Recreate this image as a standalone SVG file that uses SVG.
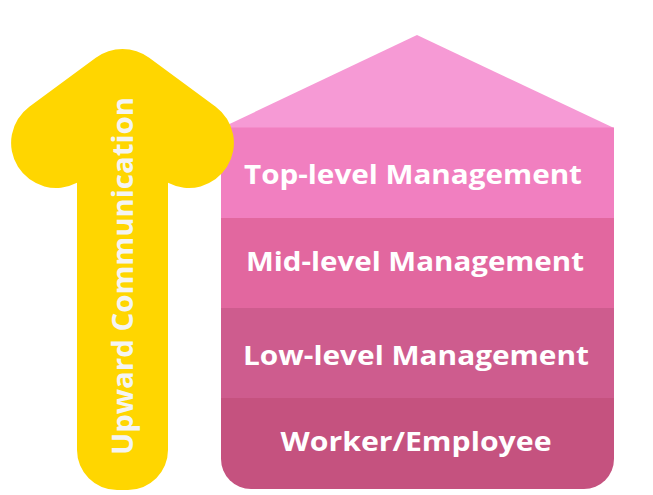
<svg xmlns="http://www.w3.org/2000/svg" width="653" height="495" viewBox="0 0 653 495">
  <style>
    .lbl { font-family: "Open Sans", "Liberation Sans", sans-serif; font-weight: 700; font-size: 27px; fill: #ffffff; text-anchor: middle; }
  </style>
  <rect width="653" height="495" fill="#ffffff"/>
  <g id="house">
    <polygon id="roof" points="221,128 417,35 614,128" fill="#F69AD5"/>
    <g id="top-level">
      <rect x="221" y="127.5" width="393" height="90.5" fill="#F17FC0"/>
      <text class="lbl" x="413" y="184" textLength="338" lengthAdjust="spacingAndGlyphs">Top-level Management</text>
    </g>
    <g id="mid-level">
      <rect x="221" y="218" width="393" height="90" fill="#E2679F"/>
      <text class="lbl" x="415" y="271" textLength="338" lengthAdjust="spacingAndGlyphs">Mid-level Management</text>
    </g>
    <g id="low-level">
      <rect x="221" y="308" width="393" height="90" fill="#CE5C8E"/>
      <text class="lbl" x="416" y="365" textLength="346" lengthAdjust="spacingAndGlyphs">Low-level Management</text>
    </g>
    <g id="worker">
      <path d="M221 398 H614 V459 A30 30 0 0 1 584 489 H251 A30 30 0 0 1 221 459 Z" fill="#C5527F"/>
      <text class="lbl" x="416" y="451" textLength="271" lengthAdjust="spacingAndGlyphs">Worker/Employee</text>
    </g>
  </g>
  <g id="arrow">
    <path d="M77 182.8 A45 45 0 0 1 29.3 106.8 L95.8 57.8 A45 45 0 0 1 149.2 57.8 L215.7 106.8 A45 45 0 0 1 168 182.8 L168 450 A40 40 0 0 1 128 490 L117 490 A40 40 0 0 1 77 450 Z" fill="#FFD600"/>
    <text class="lbl" transform="translate(132.5 276) rotate(-90)" x="0" y="0" textLength="358" lengthAdjust="spacingAndGlyphs" style="fill:#F4F4F4;font-size:29px">Upward Communication</text>
  </g>
</svg>
